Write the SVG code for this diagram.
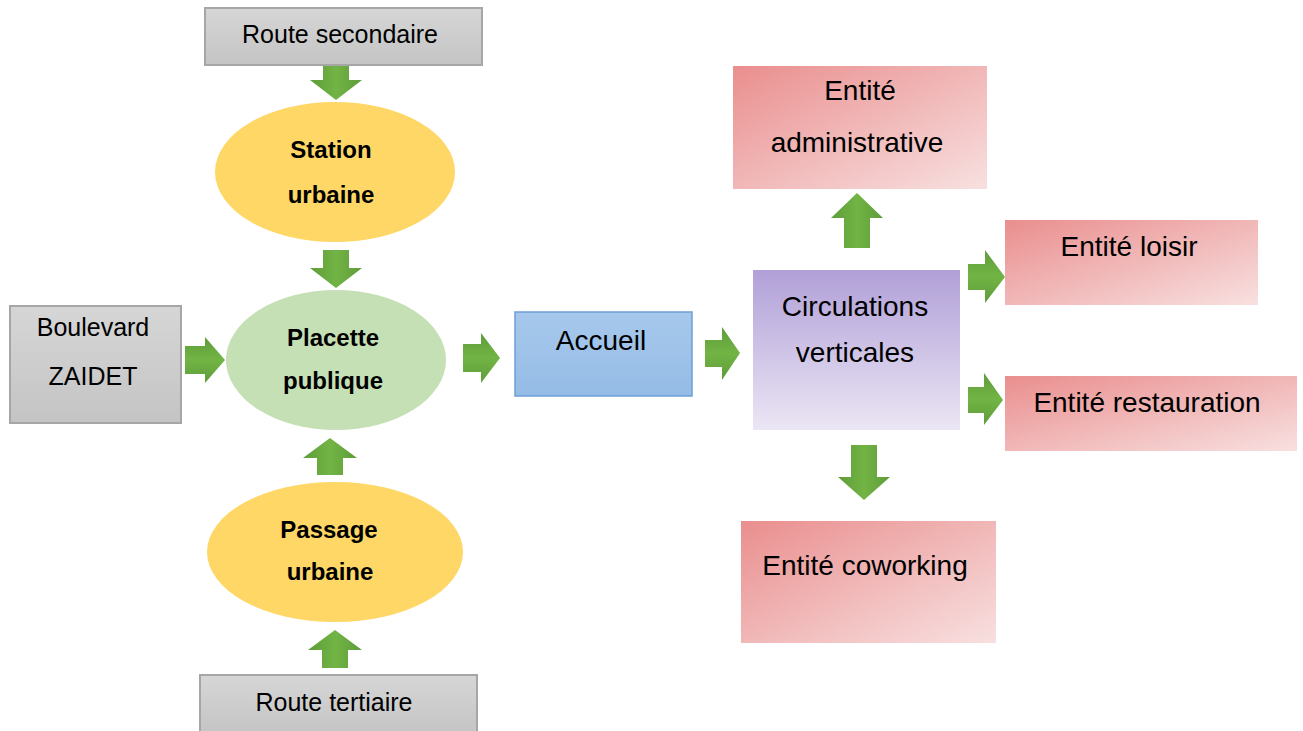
<svg xmlns="http://www.w3.org/2000/svg" width="1303" height="731" viewBox="0 0 1303 731">
<defs>
<linearGradient id="gray" x1="0" y1="0" x2="0" y2="1"><stop offset="0" stop-color="#d6d6d6"/><stop offset="1" stop-color="#c4c4c4"/></linearGradient>
<linearGradient id="pink" x1="0" y1="0" x2="1" y2="1"><stop offset="0" stop-color="#ea8e8e"/><stop offset="1" stop-color="#f8e0e0"/></linearGradient>
<linearGradient id="purple" x1="0" y1="0" x2="0" y2="1"><stop offset="0" stop-color="#b1a0d8"/><stop offset="1" stop-color="#ebe6f4"/></linearGradient>
<linearGradient id="blue" x1="0" y1="0" x2="0" y2="1"><stop offset="0" stop-color="#a7c8ec"/><stop offset="1" stop-color="#95bce6"/></linearGradient>
<linearGradient id="gv" x1="0" y1="0" x2="1" y2="0"><stop offset="0" stop-color="#5e9c3a"/><stop offset="0.5" stop-color="#72b444"/><stop offset="1" stop-color="#5e9c3a"/></linearGradient>
<linearGradient id="gh" x1="0" y1="0" x2="0" y2="1"><stop offset="0" stop-color="#5e9c3a"/><stop offset="0.5" stop-color="#72b444"/><stop offset="1" stop-color="#5e9c3a"/></linearGradient>
</defs>
<style>
.t{font-family:"Liberation Sans",Arial,sans-serif;fill:#000;text-anchor:middle}
.g{font-size:25px}
.b{font-size:24px;font-weight:bold}
.r{font-size:28px}
.gbox{fill:url(#gray);stroke:#a6a6a6;stroke-width:2}
.pbox{fill:url(#pink)}
.av{fill:url(#gv)}
.ah{fill:url(#gh)}
</style>
<rect width="1303" height="731" fill="#fff"/>
<g id="connectors">
<path class="av" d="M323 65H349V80H362L336 100L310 80H323Z"/>
<path class="av" d="M323 250H349V268H362L336 288L310 268H323Z"/>
<path class="av" d="M317 475H343V458H357L330 438L303 458H317Z"/>
<path class="av" d="M322 668H348V650H362L335 630L308 650H322Z"/>
<path class="ah" d="M185 346V374H205V383L225 360L205 337V346Z"/>
<path class="ah" d="M463 344V372H481V383L500 358L481 333V344Z"/>
<path class="ah" d="M705 340V367H722V380L740 353L722 327V340Z"/>
<path class="av" d="M844 248H870V218H883L857 193L831 218H844Z"/>
<path class="ah" d="M968 264V290H985V303L1005 277L985 250V264Z"/>
<path class="ah" d="M968 387V413H984V425L1003 400L984 373V387Z"/>
<path class="av" d="M851 445H877V477H890L864 500L838 477H851Z"/>
</g>
<g id="route-secondaire">
<rect class="gbox" x="205" y="8" width="277" height="57"/>
<text class="t g" x="340" y="43">Route secondaire</text>
</g>
<g id="station-urbaine">
<ellipse cx="335" cy="172" rx="120" ry="70" fill="#fed766"/>
<text class="t b" x="331" y="158">Station</text>
<text class="t b" x="331" y="203">urbaine</text>
</g>
<g id="boulevard-zaidet">
<rect class="gbox" x="10" y="306" width="171" height="117"/>
<text class="t g" x="93" y="336">Boulevard</text>
<text class="t g" x="93" y="385">ZAIDET</text>
</g>
<g id="placette-publique">
<ellipse cx="336" cy="360" rx="110" ry="70" fill="#c5e0b4"/>
<text class="t b" x="333" y="346">Placette</text>
<text class="t b" x="333" y="389">publique</text>
</g>
<g id="accueil">
<rect x="515" y="312" width="177" height="84" fill="url(#blue)" stroke="#6d9fd6" stroke-width="1.5"/>
<text class="t r" x="601" y="350">Accueil</text>
</g>
<g id="circulations-verticales">
<rect x="753" y="270" width="207" height="160" fill="url(#purple)"/>
<text class="t r" x="855" y="316">Circulations</text>
<text class="t r" x="855" y="362">verticales</text>
</g>
<g id="entite-administrative">
<rect class="pbox" x="733" y="66" width="254" height="123"/>
<text class="t r" x="860" y="100">Entité</text>
<text class="t r" x="857" y="152">administrative</text>
</g>
<g id="entite-loisir">
<rect class="pbox" x="1005" y="220" width="253" height="85"/>
<text class="t r" x="1129" y="256">Entité loisir</text>
</g>
<g id="entite-restauration">
<rect class="pbox" x="1005" y="376" width="292" height="75"/>
<text class="t r" x="1147" y="412">Entité restauration</text>
</g>
<g id="entite-coworking">
<rect class="pbox" x="741" y="521" width="255" height="122"/>
<text class="t r" x="865" y="575">Entité coworking</text>
</g>
<g id="passage-urbaine">
<ellipse cx="335" cy="552" rx="128" ry="70" fill="#fed766"/>
<text class="t b" x="329" y="538">Passage</text>
<text class="t b" x="330" y="580">urbaine</text>
</g>
<g id="route-tertiaire">
<rect class="gbox" x="200" y="675" width="277" height="60"/>
<text class="t g" x="334" y="711">Route tertiaire</text>
</g>
</svg>
